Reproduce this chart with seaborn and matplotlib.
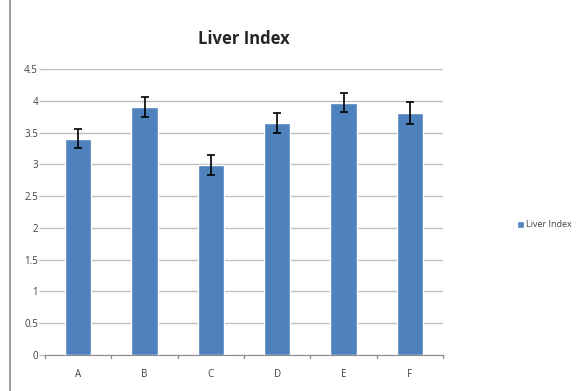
import matplotlib
matplotlib.use("Agg")
import matplotlib.pyplot as plt
import seaborn as sns
import pandas as pd
from matplotlib.patches import Rectangle

categories = ["A", "B", "C", "D", "E", "F"]
values = [3.40, 3.90, 2.99, 3.65, 3.97, 3.81]
errors = [0.15, 0.16, 0.15, 0.16, 0.15, 0.17]
yticks = [0, 0.5, 1, 1.5, 2, 2.5, 3, 3.5, 4, 4.5]
series_name = "Liver Index"

sns.set_style("white")
plt.rcParams['font.family'] = ['Open Sans', 'DejaVu Sans']

df = pd.DataFrame({"cat": categories, "val": values, "err": errors, "series": series_name})

fig = plt.figure(figsize=(5.84, 3.91), dpi=100)
fig.patches.append(Rectangle((10/584, -0.1), 1.2, 1.2, transform=fig.transFigure,
                             facecolor="none", edgecolor="#8c8c8c", linewidth=1.2))
ax = fig.add_axes([45/584, 36/391, 398/584, 286/391])

sns.barplot(data=df, x="cat", y="val", hue="series", palette=["#4f81bd"],
            width=0.4, errorbar=None, ax=ax, saturation=1, zorder=3)
ax.errorbar(range(len(categories)), df["val"], yerr=df["err"], fmt="none",
            ecolor="black", elinewidth=1.2, capsize=3, capthick=1.2, zorder=4)

ax.set_ylim(0, 4.5)
ax.set_yticks(yticks)
ax.set_yticklabels([f"{t:g}" for t in yticks], fontsize=7, color="#404040")
ax.set_xticks(range(len(categories)))
ax.set_xticklabels(categories, fontsize=7, color="#404040")
ax.set_xlim(-0.5, len(categories) - 0.5)
ax.yaxis.grid(True, color="#bfbfbf", linewidth=1)
ax.set_axisbelow(True)
ax.tick_params(axis="x", length=0, pad=10)
ax.tick_params(axis="y", length=4, color="#bfbfbf", width=1, pad=1, left=True)
for b in [-0.5, 0.5, 1.5, 2.5, 3.5, 4.5, 5.5]:
    ax.plot([b, b], [0, -0.05], color="#8c8c8c", lw=1, clip_on=False)
for s in ["top", "right", "left"]:
    ax.spines[s].set_visible(False)
ax.spines["bottom"].set_color("#8c8c8c")
ax.set_xlabel("")
ax.set_ylabel("")
ax.set_title("Liver Index", fontsize=12, fontweight="bold", pad=18)

leg = ax.legend(loc="center left", bbox_to_anchor=(1.165, 0.455), frameon=False,
                fontsize=6.5, handlelength=0.8, handleheight=0.8, handletextpad=0.25)
for t in leg.get_texts():
    t.set_color("#404040")

fig.savefig("out.png", dpi=100)
